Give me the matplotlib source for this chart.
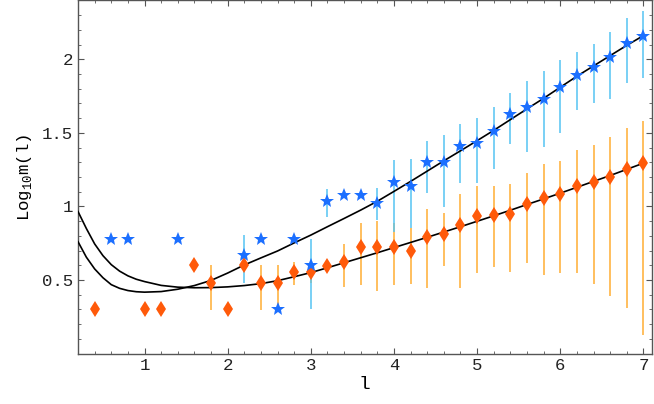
import matplotlib
matplotlib.use("Agg")
import matplotlib.pyplot as plt
import numpy as np

# blue star series
blue_l = [0.6, 0.8, 1.4, 2.2, 2.4, 2.6, 2.8, 3.0, 3.2, 3.4, 3.6, 3.8, 4.0, 4.2, 4.4, 4.6,
          4.8, 5.0, 5.2, 5.4, 5.6, 5.8, 6.0, 6.2, 6.4, 6.6, 6.8, 7.0]
blue_m = [0.778, 0.778, 0.778, 0.668, 0.778, 0.301, 0.778, 0.602, 1.036, 1.079, 1.079, 1.02,
          1.167, 1.14, 1.30, 1.301, 1.408, 1.431, 1.513, 1.628, 1.675, 1.732, 1.813, 1.892,
          1.949, 2.014, 2.111, 2.161]

# blue error bars (l, low, high)
blue_err_l = [2.2, 3.0, 3.2, 3.8, 4.0, 4.2, 4.4, 4.6, 4.8, 5.0, 5.2, 5.4, 5.6, 5.8, 6.0,
              6.2, 6.4, 6.6, 6.8, 7.0]
blue_err_lo = [0.478, 0.30, 0.93, 0.907, 0.828, 0.851, 1.092, 0.997, 1.160, 1.160, 1.253,
               1.427, 1.370, 1.404, 1.499, 1.653, 1.702, 1.732, 1.838, 1.872]
blue_err_hi = [0.805, 0.778, 1.117, 1.122, 1.314, 1.32, 1.445, 1.483, 1.563, 1.599, 1.675,
               1.768, 1.852, 1.922, 1.997, 2.048, 2.107, 2.188, 2.279, 2.331]

# orange diamond series
orange_l = [0.4, 1.0, 1.2, 1.6, 1.8, 2.0, 2.2, 2.4, 2.6, 2.8, 3.0, 3.2, 3.4, 3.6, 3.8, 4.0,
            4.2, 4.4, 4.6, 4.8, 5.0, 5.2, 5.4, 5.6, 5.8, 6.0, 6.2, 6.4, 6.6, 6.8, 7.0]
orange_m = [0.301, 0.301, 0.301, 0.602, 0.477, 0.301, 0.602, 0.477, 0.477, 0.553, 0.556,
            0.597, 0.62, 0.722, 0.722, 0.726, 0.70, 0.795, 0.815, 0.874, 0.938, 0.945, 0.947,
            1.018, 1.058, 1.081, 1.14, 1.163, 1.201, 1.253, 1.294]

orange_err_l = [1.8, 2.4, 2.6, 2.8, 3.0, 3.4, 3.6, 3.8, 4.0, 4.2, 4.4, 4.6, 4.8, 5.0, 5.2,
                5.4, 5.6, 5.8, 6.0, 6.2, 6.4, 6.6, 6.8, 7.0]
orange_err_lo = [0.297, 0.297, 0.297, 0.466, 0.478, 0.455, 0.466, 0.428, 0.466, 0.473, 0.444,
                 0.597, 0.444, 0.548, 0.591, 0.557, 0.614, 0.532, 0.55, 0.55, 0.475, 0.394,
                 0.306, 0.127]
orange_err_hi = [0.602, 0.602, 0.602, 0.625, 0.602, 0.744, 0.885, 0.903, 0.885, 0.851, 0.98,
                 0.957, 1.085, 1.138, 1.138, 1.151, 1.224, 1.291, 1.309, 1.382, 1.418, 1.472,
                 1.531, 1.578]

# fitted curves
fit_l = [0.2, 0.3, 0.4, 0.5, 0.6, 0.7, 0.8, 0.9, 1.0, 1.2, 1.4, 1.6, 1.8, 2.0, 2.2, 2.4,
         2.6, 2.8, 3.0, 3.2, 3.4, 3.6, 3.8, 4.0, 4.2, 4.4, 4.6, 4.8, 5.0, 5.2, 5.4, 5.6,
         5.8, 6.0, 6.2, 6.4, 6.6, 6.8, 7.0]
fit_blue = [0.76, 0.655, 0.575, 0.515, 0.468, 0.443, 0.428, 0.42, 0.417, 0.421, 0.437,
            0.462, 0.497, 0.547, 0.602, 0.65, 0.697, 0.752, 0.805, 0.862, 0.918, 0.975,
            1.035, 1.102, 1.17, 1.24, 1.31, 1.378, 1.447, 1.517, 1.59, 1.663, 1.735, 1.81,
            1.885, 1.955, 2.025, 2.095, 2.161]
fit_orange = [0.965, 0.85, 0.745, 0.665, 0.604, 0.56, 0.528, 0.505, 0.489, 0.463, 0.451,
              0.447, 0.448, 0.453, 0.462, 0.475, 0.495, 0.522, 0.55, 0.583, 0.617, 0.651,
              0.685, 0.72, 0.755, 0.79, 0.826, 0.862, 0.899, 0.936, 0.974, 1.013, 1.051,
              1.09, 1.13, 1.17, 1.21, 1.252, 1.294]

mono = "Liberation Mono"

fig = plt.figure(figsize=(6.54, 4.04), dpi=100)
ax = fig.add_axes([0.1193, 0.125, 0.8772, 0.8738])

ax.vlines(orange_err_l, orange_err_lo, orange_err_hi, color="#FFAD33", lw=1.1, zorder=1)
ax.vlines(blue_err_l, blue_err_lo, blue_err_hi, color="#55C4F2", lw=1.1, zorder=1)

ax.plot(fit_l, fit_blue, color="black", lw=1.2, zorder=3)
ax.plot(fit_l, fit_orange, color="black", lw=1.2, zorder=3)

ax.plot(orange_l, orange_m, linestyle="none", marker="d", markersize=8.5,
        color="#FF5A0A", markeredgewidth=0, zorder=4)
ax.plot(blue_l, blue_m, linestyle="none", marker="*", markersize=10,
        color="#1C6FFF", markeredgewidth=0, zorder=5)

ax.set_xlim(0.2, 7.1)
ax.set_ylim(0, 2.4)

ax.set_xticks([1, 2, 3, 4, 5, 6, 7])
ax.set_xticks(np.arange(0.2, 7.1, 0.2), minor=True)
ax.set_yticks([0.5, 1, 1.5, 2])
ax.set_yticklabels(["0.5", "1", "1.5", "2"])
ax.set_yticks(np.arange(0.1, 2.4, 0.1), minor=True)

ax.tick_params(which="both", direction="in", top=True, right=True, color="#555555",
               labelsize=12.5, labelcolor="#222222")
ax.tick_params(which="major", length=4, width=0.8)
ax.tick_params(which="minor", length=2.2, width=0.6)
for lab in ax.get_xticklabels() + ax.get_yticklabels():
    lab.set_fontfamily(mono)

for s in ax.spines.values():
    s.set_color("#555555")
    s.set_linewidth(1.0)

ax.set_xlabel("l", fontfamily=mono, fontsize=14, labelpad=2)
ax.set_ylabel(r"Log$_{\mathregular{10}}$m(l)", fontfamily=mono, fontsize=12.5, labelpad=6)

fig.savefig("out.png", dpi=100)
